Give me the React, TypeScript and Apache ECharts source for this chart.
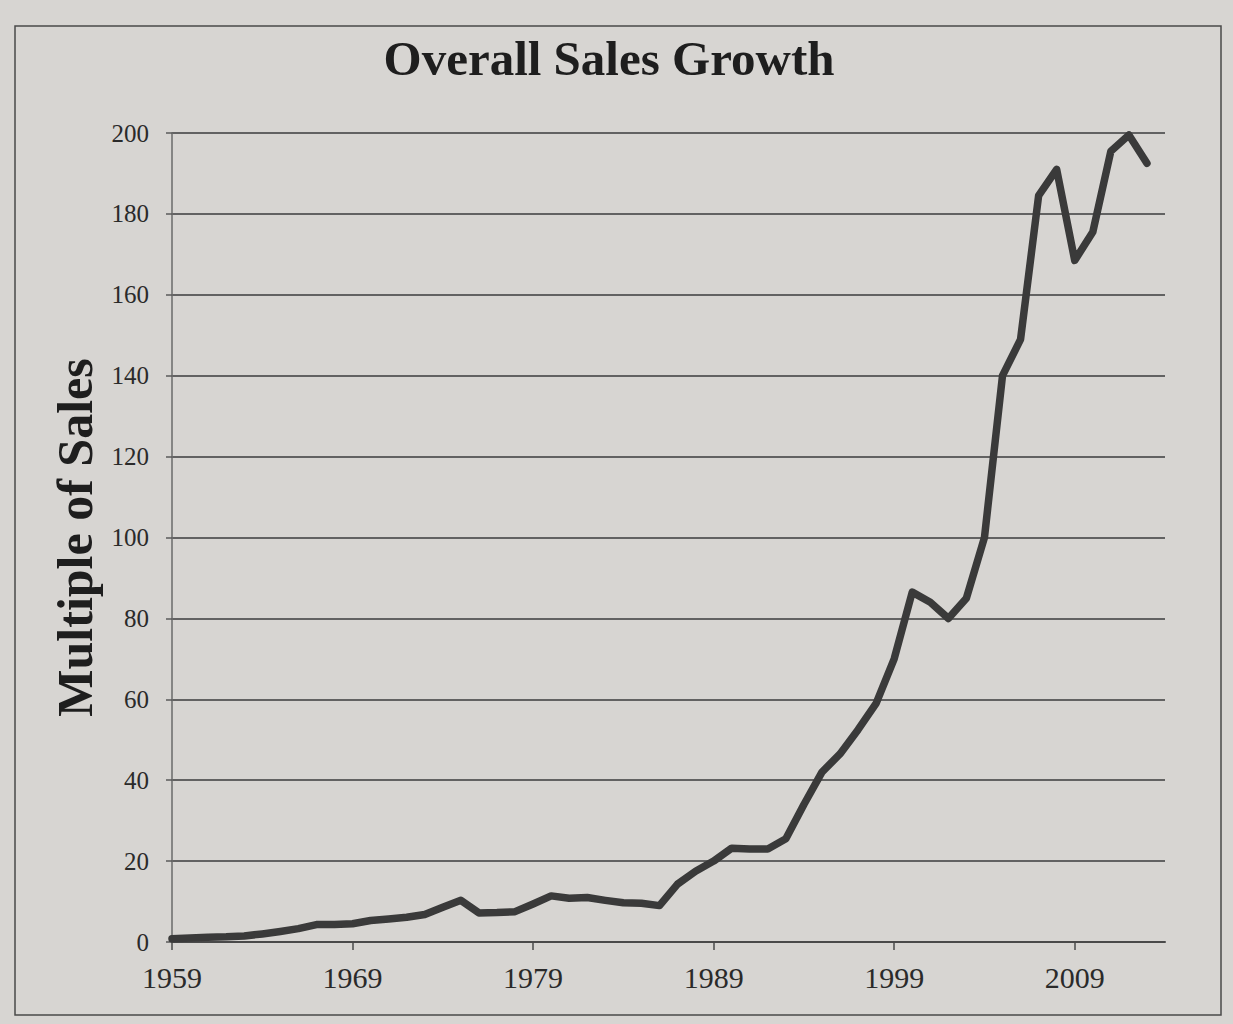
import React, { useEffect, useRef } from "react";
import * as echarts from "echarts";

const years = [
  1959, 1960, 1961, 1962, 1963, 1964, 1965, 1966, 1967, 1968,
  1969, 1970, 1971, 1972, 1973, 1974, 1975, 1976, 1977, 1978,
  1979, 1980, 1981, 1982, 1983, 1984, 1985, 1986, 1987, 1988,
  1989, 1990, 1991, 1992, 1993, 1994, 1995, 1996, 1997, 1998,
  1999, 2000, 2001, 2002, 2003, 2004, 2005, 2006, 2007, 2008,
  2009, 2010, 2011, 2012, 2013,
];

const salesMultiple = [
  0.8, 1.0, 1.2, 1.3, 1.5, 2.0, 2.6, 3.3, 4.3, 4.3,
  4.5, 5.3, 5.7, 6.1, 6.8, 8.6, 10.3, 7.2, 7.3, 7.5,
  9.4, 11.4, 10.8, 11.0, 10.3, 9.7, 9.6, 9.0, 14.3, 17.5,
  20.0, 23.2, 23.0, 23.0, 25.5, 34.0, 42.0, 46.5, 52.5, 59.0,
  70.0, 86.5, 84.0, 80.0, 85.0, 100.0, 140.0, 149.0, 184.5, 191.0,
  168.5, 175.5, 195.5, 199.5, 192.5,
];

const xTickYears = [1959, 1969, 1979, 1989, 1999, 2009];
const yTicks = { min: 0, max: 200, interval: 20 };

const titleText = "Overall Sales Growth";
const yAxisTitle = "Multiple of Sales";

const SERIF = "'Liberation Serif', 'DejaVu Serif', serif";

export default function App() {
  const ref = useRef<HTMLDivElement>(null);

  useEffect(() => {
    if (!ref.current) return;
    const chart = echarts.init(ref.current, undefined, { renderer: "svg" });
    const points = years.map((y, i) => [y, salesMultiple[i]]);

    chart.setOption({
      animation: false,
      backgroundColor: "#d7d5d2",
      grid: { left: 172, right: 68, top: 133, bottom: 82, containLabel: false },
      graphic: [
        {
          type: "rect",
          shape: { x: 15, y: 26, width: 1206, height: 989 },
          style: { fill: "transparent", stroke: "#4a4a4a", lineWidth: 1.5 },
          silent: true,
        },
        {
          type: "text",
          x: 609,
          y: 58,
          style: {
            text: titleText,
            fill: "#1e1e1e",
            font: `bold 49px ${SERIF}`,
            textAlign: "center",
            textVerticalAlign: "middle",
          },
        },
      ],
      xAxis: {
        type: "value",
        min: 1959,
        max: 2014,
        splitLine: { show: false },
        axisLine: { show: true, lineStyle: { color: "#4a4a4a", width: 2 } },
        axisTick: {
          show: true,
          customValues: xTickYears,
          length: 8,
          lineStyle: { color: "#4a4a4a", width: 1.5 },
        },
        axisLabel: {
          customValues: xTickYears,
          formatter: (v: number) => String(v),
          color: "#2a2a2a",
          fontFamily: SERIF,
          fontSize: 30,
          margin: 20,
        },
      },
      yAxis: {
        type: "value",
        min: yTicks.min,
        max: yTicks.max,
        interval: yTicks.interval,
        name: yAxisTitle,
        nameLocation: "middle",
        nameGap: 72,
        nameTextStyle: {
          fontFamily: SERIF,
          fontWeight: "bold",
          fontSize: 50,
          color: "#1e1e1e",
        },
        axisLine: { show: true, lineStyle: { color: "#6a6a6a", width: 1.5 } },
        axisTick: { show: true, length: 6, lineStyle: { color: "#5a5a5a", width: 1.5 } },
        axisLabel: {
          color: "#2a2a2a",
          fontFamily: SERIF,
          fontSize: 25,
          margin: 23,
        },
        splitLine: { show: true, lineStyle: { color: "#626262", width: 2 } },
      },
      series: [
        {
          type: "line",
          data: points,
          showSymbol: false,
          symbol: "none",
          lineStyle: { color: "#3a3a3a", width: 7.5, join: "round", cap: "round" },
        },
      ],
    });

    return () => chart.dispose();
  }, []);

  return (
    <div
      ref={ref}
      style={{ position: "absolute", left: 0, top: 0, width: 1233, height: 1024 }}
    />
  );
}
